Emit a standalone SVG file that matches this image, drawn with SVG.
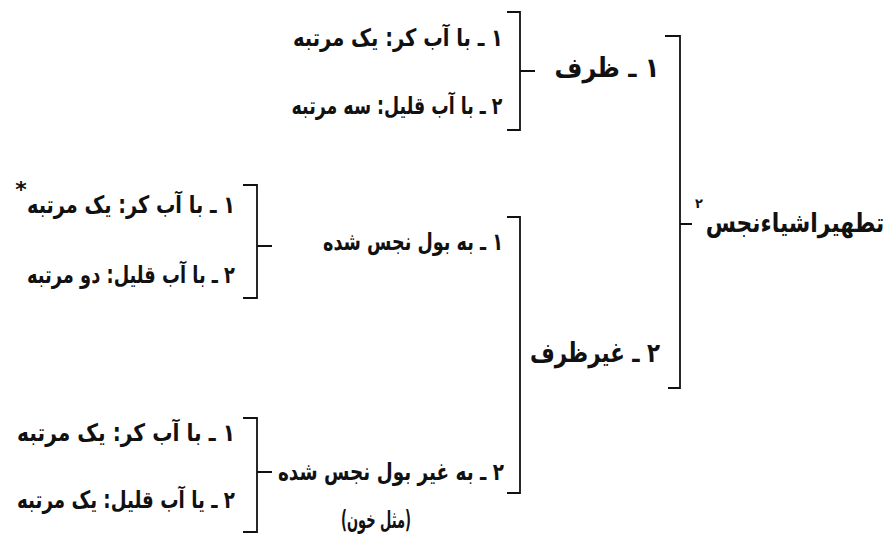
<svg xmlns="http://www.w3.org/2000/svg" width="891" height="544" viewBox="0 0 891 544">
<style>
.t{font-family:"DejaVu Sans",sans-serif;font-weight:bold;font-size:24px;fill:#111;text-anchor:middle;direction:rtl}
.big{font-size:27px}
.mid{font-size:27px}
.sup{font-size:13px}
.br{fill:none;stroke:#111;stroke-width:1.8}
</style>
<rect width="891" height="544" fill="#fff"/>
<g id="connectors">
<path class="br" d="M665,36 H680 V388 H668 M680,224 H692"/>
<path class="br" d="M507,12 H520 V130 H507 M520,71 H535"/>
<path class="br" d="M507,217 H520 V493 H507"/>
<path class="br" d="M243,185 H257 V298 H243 M257,246 H272"/>
<path class="br" d="M243,418 H257 V532 H243 M257,472 H272"/>
</g>
<g id="root">
<text class="t big" transform="translate(795,232) scale(0.81,1)">تطهیراشیاءنجس</text>
<text class="t sup" x="699" y="208">۲</text>
</g>
<g id="zarf">
<text class="t mid" x="607" y="77" textLength="105" lengthAdjust="spacingAndGlyphs">۱ ـ ظرف</text>
</g>
<g id="gheyrzarf">
<text class="t mid" x="595" y="362" textLength="130" lengthAdjust="spacingAndGlyphs">۲ ـ غیرظرف</text>
</g>
<g id="zarf-1">
<text class="t" x="398" y="46" textLength="210" lengthAdjust="spacingAndGlyphs">۱ ـ با آب کر: یک مرتبه</text>
</g>
<g id="zarf-2">
<text class="t" x="397" y="114" textLength="211" lengthAdjust="spacingAndGlyphs">۲ ـ با آب قلیل: سه مرتبه</text>
</g>
<g id="bowl">
<text class="t" x="413" y="250" textLength="180" lengthAdjust="spacingAndGlyphs">۱ ـ به بول نجس شده</text>
</g>
<g id="bowl-1">
<text class="t" x="131" y="213" textLength="208" lengthAdjust="spacingAndGlyphs">۱ ـ با آب کر: یک مرتبه</text>
<text class="t" x="21" y="197" style="font-size:22px">*</text>
</g>
<g id="bowl-2">
<text class="t" x="131" y="283" textLength="208" lengthAdjust="spacingAndGlyphs">۲ ـ با آب قلیل: دو مرتبه</text>
</g>
<g id="gheyrbowl">
<text class="t" x="391" y="480" textLength="226" lengthAdjust="spacingAndGlyphs">۲ ـ به غیر بول نجس شده</text>
<text class="t" x="376" y="528" textLength="70" lengthAdjust="spacingAndGlyphs">(مثل خون)</text>
</g>
<g id="gheyrbowl-1">
<text class="t" x="126" y="441" textLength="218" lengthAdjust="spacingAndGlyphs">۱ ـ با آب کر: یک مرتبه</text>
</g>
<g id="gheyrbowl-2">
<text class="t" x="126" y="508" textLength="218" lengthAdjust="spacingAndGlyphs">۲ ـ یا آب قلیل: یک مرتبه</text>
</g>
</svg>
